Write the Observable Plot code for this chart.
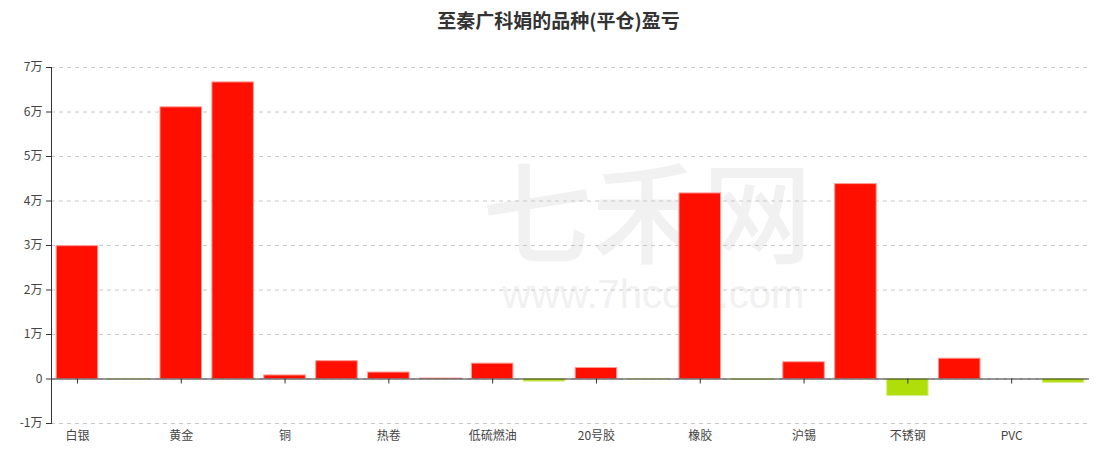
<!DOCTYPE html>
<html>
<head>
<meta charset="utf-8">
<script src="https://cdn.jsdelivr.net/npm/d3@7"></script>
<script src="https://cdn.jsdelivr.net/npm/@observablehq/plot@0.6"></script>
<style>
  html, body { margin: 0; padding: 0; background: #fff; }
  body { width: 1099px; height: 452px; overflow: hidden; font-family: "Noto Sans CJK SC", "Noto Sans", sans-serif; }
  #wrap { position: relative; width: 1099px; height: 452px; }
  #title { height: 45px; line-height: 40px; text-align: center; padding-left: 18px; box-sizing: border-box; font-size: 19px; font-weight: bold; color: #333; position: relative; z-index: 1; }
  .wm { position: absolute; color: #f1f1f1; font-weight: normal; white-space: nowrap; z-index: 0; }
  #chart { position: relative; z-index: 1; }
  #chart svg { background: transparent !important; }
</style>
</head>
<body>
<div id="wrap">
  <div class="wm" style="left:482px; top:152px; font-size:110px; line-height:110px; font-weight:500;">七禾网</div>
  <div class="wm" style="left:502px; top:274px; font-family:'Liberation Sans', Arial, sans-serif; font-size:40px; line-height:40px;">www.7hcom.com</div>
  <div id="title">至秦广科娟的品种(平仓)盈亏</div>
  <div id="chart"></div>
</div>
<script>
const categories = ["白银", "甲醇", "黄金", "沪金", "铜", "螺纹钢", "热卷", "铁矿石", "低硫燃油", "燃油", "20号胶", "纸浆", "橡胶", "沪镍", "沪锡", "沪锌", "不锈钢", "沪铅", "PVC", "乙二醇"];
const values = [29850, -60, 61050, 66650, 800, 4000, 1450, 100, 3450, -600, 2480, -60, 41700, -250, 3760, 43800, -3840, 4560, 0, -880];
const yTicks = [-10000, 0, 10000, 20000, 30000, 40000, 50000, 60000, 70000];
const labeledCategories = categories.filter((d, i) => i % 2 === 0);

const data = categories.map((c, i) => ({category: c, value: values[i]}));
const fmt = v => v === 0 ? "0" : (v / 10000) + "万";

const chart = Plot.plot({
  width: 1099,
  height: 407,
  marginLeft: 51,
  marginRight: 10,
  marginTop: 22,
  marginBottom: 29,
  style: {background: "transparent", fontFamily: "'Noto Sans CJK SC', 'Noto Sans', sans-serif", color: "#444"},
  x: {type: "band", domain: categories, paddingInner: 0.2, paddingOuter: 0.1, round: false, label: null},
  y: {domain: [-10000, 70000], label: null},
  marks: [
    Plot.gridY(yTicks, {stroke: "#c8c8c8", strokeOpacity: 1, strokeDasharray: "4,4"}),
    Plot.barY(data, {
      x: "category", y: "value",
      fill: d => d.value >= 0 ? "#FF0F00" : "#B0DE09",
      stroke: d => d.value >= 0 ? "#ff9a90" : "#d8ee90",
      strokeWidth: 1
    }),
    Plot.ruleY([0], {stroke: "#333", strokeWidth: 1}),
    Plot.ruleX(labeledCategories, {x: d => d, y1: 0, y2: 0, insetBottom: -5, stroke: "#333"}),
    Plot.frame({anchor: "left", stroke: "#333"}),
    Plot.axisY(yTicks, {tickFormat: fmt, tickSize: 5, tickPadding: 4, fontSize: 12, stroke: "#333", fill: "#444"}),
    Plot.axisX(labeledCategories, {tickSize: 0, tickPadding: 8, fontSize: 12, fill: "#444"})
  ]
});
document.getElementById("chart").appendChild(chart);
</script>
</body>
</html>
